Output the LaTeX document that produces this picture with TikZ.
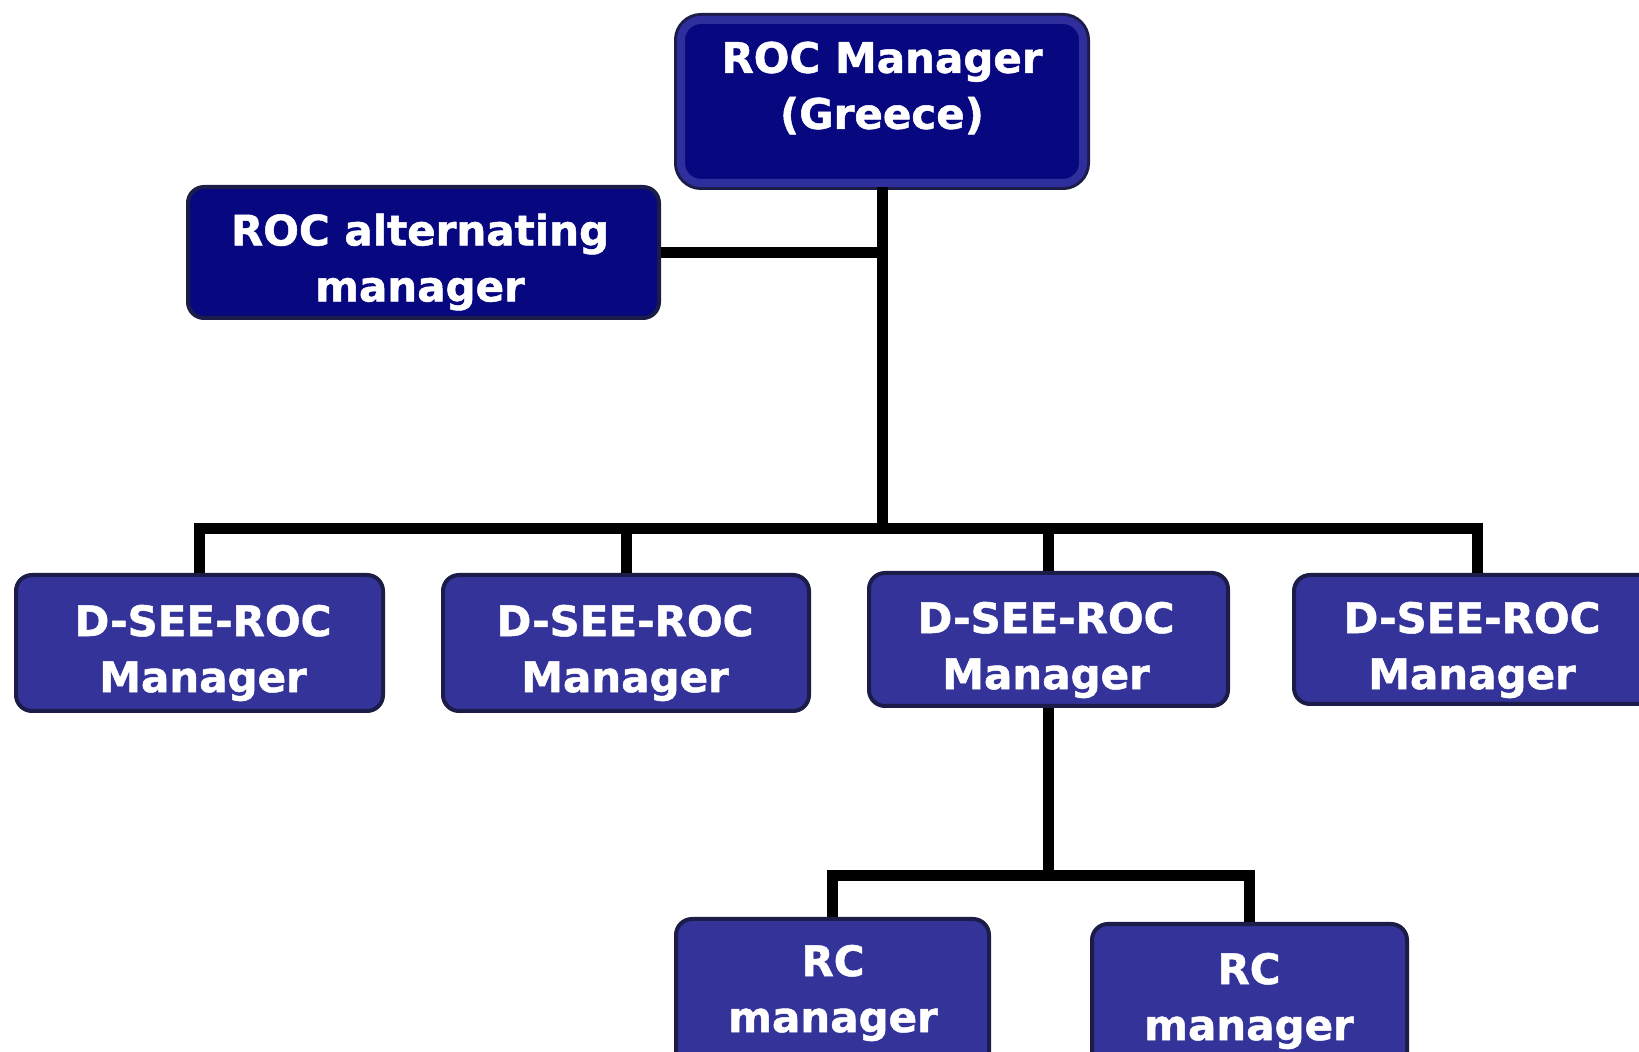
\documentclass[tikz,border=0pt]{standalone}
\usepackage{fontspec}
\setmainfont{DejaVu Sans}
\newfontfamily\heavyfont[FakeBold=1.2]{DejaVu Sans Bold}
\usetikzlibrary{fit}
\definecolor{navyfill}{HTML}{07077F}
\definecolor{midfill}{HTML}{333399}
\definecolor{edgecol}{HTML}{1C1C48}
\definecolor{bandcol}{HTML}{2E2E9C}
\begin{document}
\begin{tikzpicture}[x=0.5pt,y=-0.5pt,
  basebox/.style={inner sep=0pt, rounded corners=8pt, draw=edgecol, line width=2pt},
  navybox/.style={basebox, fill=navyfill},
  topbox/.style={navybox, draw=bandcol, line width=4pt, rounded corners=10pt, preaction={draw=edgecol, line width=7pt}},
  bluebox/.style={basebox, fill=midfill},
  lbl/.style={text=white, font=\heavyfont\fontsize{21}{28}\selectfont, align=center, inner sep=0pt},
  conn/.style={draw=black, line width=5.5pt, line join=miter},
]
\useasboundingbox (0,0) rectangle (1639,1052);
\fill[white] (0,0) rectangle (1639,1052);
\clip (0,0) rectangle (1639,1052);

% boxes
\node[topbox, fit={(681,20) (1083,183)}] (top) {};
\node[navybox, fit={(188,187) (659,318)}] (alt) {};
\node[bluebox, fit={(16,575) (383,711)}] (d1) {};
\node[bluebox, fit={(443,575) (809,711)}] (d2) {};
\node[bluebox, fit={(869,573) (1228,706)}] (d3) {};
\node[bluebox, fit={(1294,575) (1660,704)}] (d4) {};
\node[bluebox, fit={(676,919) (989,1080)}] (rc1) {};
\node[bluebox, fit={(1092,924) (1407,1080)}] (rc2) {};

% labels
\node[lbl] (ttop) at (882,88) {ROC Manager\\(Greece)};
\node[lbl] (talt) at (420,262) {ROC alternating\\manager};
\node[lbl] (td1) at (203,653) {D-SEE-ROC\\Manager};
\node[lbl] (td2) at (625,653) {D-SEE-ROC\\Manager};
\node[lbl] (td3) at (1046,650) {D-SEE-ROC\\Manager};
\node[lbl] (td4) at (1472,650) {D-SEE-ROC\\Manager};
\node[lbl] (trc1) at (833,993) {RC\\manager};
\node[lbl] (trc2) at (1249,1001) {RC\\manager};

% connectors
\coordinate (bus) at (883,529);
\coordinate (rcbus) at (1048,876);
\draw[conn] (top.south) -- (top.south |- bus);
\draw[conn] (alt.east) -- (alt.east -| top.south);
\draw[conn] (d1.north) -- (d1.north |- bus) -- (d4.north |- bus) -- (d4.north);
\draw[conn] (d2.north) -- (d2.north |- bus);
\draw[conn] (d3.north) -- (d3.north |- bus);
\draw[conn] (d3.south) -- (d3.south |- rcbus);
\draw[conn] (rc1.north) -- (rc1.north |- rcbus) -- (rc2.north |- rcbus) -- (rc2.north);
\end{tikzpicture}
\end{document}
